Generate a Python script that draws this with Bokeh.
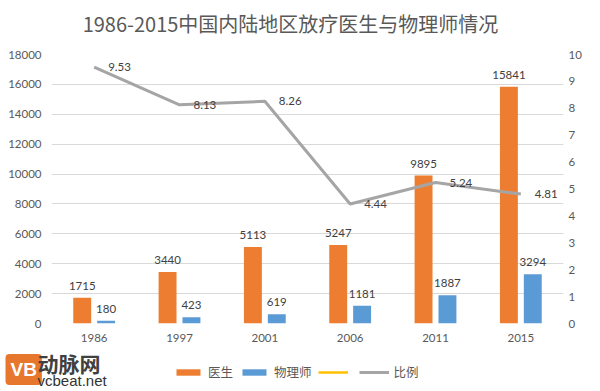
from bokeh.plotting import figure
from bokeh.layouts import column
from bokeh.models import (ColumnDataSource, Range1d, LinearAxis, SingleIntervalTicker,
                          Legend, LegendItem, Label)
from bokeh.transform import dodge
from bokeh.core.properties import value
from bokeh.embed import file_html
from bokeh.resources import INLINE

# ---- data ----
years = ["1986", "1997", "2001", "2006", "2011", "2015"]
doctors = [1715, 3440, 5113, 5247, 9895, 15841]
physicists = [180, 423, 619, 1181, 1887, 3294]
ratio = [9.53, 8.13, 8.26, 4.44, 5.24, 4.81]

title_text = "1986-2015中国内陆地区放疗医生与物理师情况"
series_names = ["医生", "物理师", " ", "比例"]

ORANGE = "#ED7D31"
BLUE = "#5B9BD5"
YELLOW = "#FFC000"
GRAY = "#A5A5A5"
TXT = "#595959"
NUM_FONT = "Lato"
CJK_FONT = "Noto Sans CJK SC"
W = 584


def strip(h):
    f = figure(width=W, height=h, x_range=Range1d(0, W), y_range=Range1d(0, h),
               output_backend="svg", toolbar_location=None,
               x_axis_location=None, y_axis_location=None, min_border=0)
    f.grid.visible = False
    f.outline_line_color = None
    f.background_fill_color = "white"
    f.border_fill_color = "white"
    return f


# ---- title strip ----
top = strip(48)
top.add_layout(Label(x=239, y=25, x_units="screen", y_units="screen", text=title_text,
                     text_align="center", text_baseline="middle",
                     text_font=CJK_FONT, text_font_size="20px", text_color=TXT))

# ---- main chart ----
src = ColumnDataSource(dict(
    year=years,
    doc=doctors,
    phy=physicists,
    ratio=ratio,
    doc_lbl=[str(v) for v in doctors],
    phy_lbl=[str(v) for v in physicists],
    ratio_lbl=["%.2f" % v for v in ratio],
))

p = figure(x_range=years, y_range=Range1d(0, 18000), width=W, height=300,
           output_backend="svg", toolbar_location=None,
           min_border_left=51, min_border_right=18, min_border_top=6, min_border_bottom=25)
p.extra_y_ranges = {"ratio": Range1d(0, 10)}
p.add_layout(LinearAxis(y_range_name="ratio", ticker=SingleIntervalTicker(interval=1)), "right")
p.yaxis[0].ticker = SingleIntervalTicker(interval=2000)

p.outline_line_color = None
p.background_fill_color = "white"
p.border_fill_color = "white"
p.xgrid.grid_line_color = None
p.ygrid.grid_line_color = "#D9D9D9"
p.ygrid.grid_line_width = 1

for ax in p.xaxis + p.yaxis:
    ax.axis_line_color = None
    ax.major_tick_line_color = None
    ax.minor_tick_line_color = None
    ax.major_tick_out = 0
    ax.major_tick_in = 0
    ax.minor_tick_out = 0
    ax.minor_tick_in = 0
    ax.major_label_text_font = NUM_FONT
    ax.major_label_text_font_size = "11.5px"
    ax.major_label_text_color = TXT
p.xaxis.major_label_standoff = 10
p.yaxis[0].major_label_standoff = 10
p.yaxis[1].major_label_standoff = 5

off = 0.14
bw = 0.21
p.vbar(x=dodge("year", -off, range=p.x_range), top="doc", width=bw, source=src,
       fill_color=ORANGE, line_color=None)
p.vbar(x=dodge("year", off, range=p.x_range), top="phy", width=bw, source=src,
       fill_color=BLUE, line_color=None)
p.line(x="year", y="ratio", y_range_name="ratio", source=src,
       line_color=GRAY, line_width=3)

p.text(x=dodge("year", -off, range=p.x_range), y="doc", text="doc_lbl", source=src,
       text_align="center", text_baseline="bottom", y_offset=-8,
       text_font=value(NUM_FONT), text_font_size="11.5px", text_color="#404040")
p.text(x=dodge("year", off, range=p.x_range), y="phy", text="phy_lbl", source=src,
       text_align="center", text_baseline="bottom", y_offset=-8,
       text_font=value(NUM_FONT), text_font_size="11.5px", text_color="#404040")
p.text(x="year", y="ratio", text="ratio_lbl", source=src, y_range_name="ratio",
       text_align="left", text_baseline="middle", x_offset=14,
       text_font=value(NUM_FONT), text_font_size="11.5px", text_color="#404040")

# ---- bottom strip: logo + legend (separate root so its frame spans full width) ----
bot = strip(42)
# legend swatches only (kept outside the visible range of this strip)
r1 = bot.vbar(x=[-100], top=[1], width=1, fill_color=ORANGE, line_color=None)
r2 = bot.vbar(x=[-100], top=[1], width=1, fill_color=BLUE, line_color=None)
r3 = bot.line(x=[-100, -99], y=[1, 1], line_color=YELLOW, line_width=2.5)
r4 = bot.line(x=[-100, -99], y=[1, 1], line_color=GRAY, line_width=3)
legend = Legend(items=[
    LegendItem(label=series_names[0], renderers=[r1]),
    LegendItem(label=series_names[1], renderers=[r2]),
    LegendItem(label=series_names[2], renderers=[r3]),
    LegendItem(label=series_names[3], renderers=[r4]),
], orientation="horizontal", location=(173, 9),
    glyph_width=30, glyph_height=8, label_standoff=5, spacing=6, label_width=0,
    padding=0, margin=0, border_line_color=None, background_fill_alpha=0,
    label_text_font=CJK_FONT, label_text_font_size="12.5px", label_text_color=TXT)
bot.add_layout(legend)

bot.add_layout(Label(x=5, y=21, x_units="screen", y_units="screen", text="VB",
                     text_align="left", text_baseline="middle", text_font="Liberation Sans",
                     text_font_style="bold", text_font_size="19px", text_color="white",
                     background_fill_color="#E8772E", padding=5, border_radius=4))
bot.add_layout(Label(x=37, y=28, x_units="screen", y_units="screen", text="动脉网",
                     text_align="left", text_baseline="middle", text_font=CJK_FONT,
                     text_font_style="bold", text_font_size="21px", text_color="#404040"))
bot.add_layout(Label(x=37, y=10, x_units="screen", y_units="screen", text="vcbeat.net",
                     text_align="left", text_baseline="middle", text_font="Liberation Sans",
                     text_font_size="15px", text_color="#333333"))

main = column(top, p, spacing=0)
open("out.html", "w").write(file_html([main, bot], INLINE))
